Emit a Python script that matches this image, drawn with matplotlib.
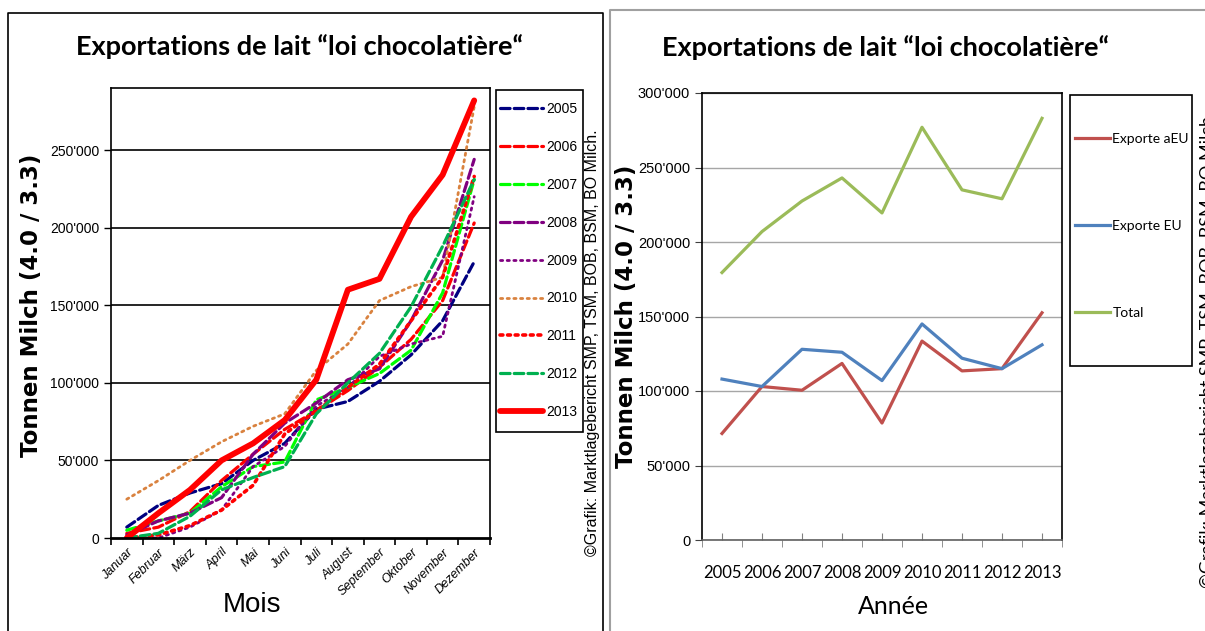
import numpy as np
import matplotlib
matplotlib.use("Agg")
import matplotlib.pyplot as plt
from matplotlib.lines import Line2D
from matplotlib.patches import Rectangle

# left chart: monthly cumulated exports per year
months = ["Januar", "Februar", "März", "April", "Mai", "Juni", "Juli",
          "August", "September", "Oktober", "November", "Dezember"]
y2005 = [7, 21, 29, 35, 50, 61, 83, 88, 101, 118, 140, 178]
y2006 = [3, 7, 17, 37, 54, 70, 82, 95, 110, 128, 153, 203]
y2007 = [5, 11, 16, 33, 46, 49, 89, 97, 106, 121, 158, 231]
y2008 = [2, 11, 16, 26, 54, 74, 87, 102, 109, 140, 179, 244]
y2009 = [0, 0, 7, 18, 46, 59, 85, 97, 117, 125, 130, 220]
y2010 = [25, 37, 50, 62, 72, 80, 108, 125, 153, 162, 168, 278]
y2011 = [0, 2, 8, 18, 34, 67, 82, 97, 112, 140, 168, 233]
y2012 = [0, 3, 14, 31, 39, 46, 80, 100, 119, 149, 188, 231]
y2013 = [0, 16, 31, 50, 61, 76, 102, 160, 167, 207, 234, 282]

# right chart: yearly exports
years = ["2005", "2006", "2007", "2008", "2009", "2010", "2011", "2012", "2013"]
exp_aeu = [71.5, 103, 100.5, 118.5, 78.5, 133.5, 113.5, 115, 152.5]
exp_eu = [108, 103, 128, 126, 107, 145, 122, 115, 131]
total = [179.5, 207, 227.5, 243, 219.5, 277, 235, 229, 283]

W, H = 1205, 631
fig = plt.figure(figsize=(W / 100, H / 100), dpi=100)

def box(x0, y0, x1, y1):
    # pixel coords (top-left origin) -> figure fraction
    return [x0 / W, 1 - y1 / H, (x1 - x0) / W, (y1 - y0) / H]

def fx(x):
    return x / W

def fy(y):
    return 1 - y / H

def frame(x0, y0, x1, y1):
    fig.add_artist(Rectangle((fx(x0), fy(y1)), fx(x1) - fx(x0), fy(y0) - fy(y1),
                             transform=fig.transFigure, fill=False, edgecolor="black", lw=1.2))

narrow = ["Liberation Sans Narrow", "Liberation Sans", "DejaVu Sans"]
calib = ["Lato", "DejaVu Sans"]
heavy = ["DejaVu Sans"]

# panel borders
fig.add_artist(Line2D([fx(8), fx(8), fx(603), fx(603)], [0, fy(13), fy(13), 0], color="black", lw=1.2))
fig.add_artist(Line2D([fx(610), fx(610), 1], [0, fy(10), fy(10)], color="#a0a0a0", lw=1.5))

fmt = matplotlib.ticker.FuncFormatter(lambda v, p: "0" if v == 0 else "%d'%03d" % (v // 1000, v % 1000))

# ---------------- left chart ----------------
ax = fig.add_axes(box(111, 88, 490, 538))
xs = np.arange(len(months))
k = 1000
styles = [
    (y2005, "2005", "#000080", (0, (3, 1.3)), 2.3),
    (y2006, "2006", "#ff0000", (0, (3, 1.3)), 2.3),
    (y2007, "2007", "#00ff00", (0, (3, 1.3)), 2.3),
    (y2008, "2008", "#800080", (0, (3, 1.3)), 2.3),
    (y2009, "2009", "#800080", (0, (0.8, 1.6)), 2.0),
    (y2010, "2010", "#d9823f", (0, (0.8, 1.6)), 2.0),
    (y2011, "2011", "#ff0000", (0, (0.8, 1.3)), 2.6),
    (y2012, "2012", "#00b050", (0, (3, 1.3)), 2.3),
    (y2013, "2013", "#ff0000", "-", 4.2),
]
for vals, lab, col, ls, lw in styles:
    ax.plot(xs, np.array(vals) * k, color=col, ls=ls, lw=lw, label=lab,
            solid_capstyle="round", dash_capstyle="round")

ax.set_xlim(-0.5, 11.5)
ax.set_ylim(0, 290000)
ax.set_yticks(np.arange(0, 290000, 50000))
ax.yaxis.set_major_formatter(fmt)
for v in range(50000, 290000, 50000):
    ax.axhline(v, color="black", lw=1.2, zorder=0)
ax.set_xticks(xs)
ax.set_xticklabels(months, rotation=45, ha="right", rotation_mode="anchor",
                   fontsize=9, style="italic", family=narrow)
ax.tick_params(axis="x", length=0, pad=6)
ax.set_xticks(np.arange(-0.5, 12, 1), minor=True)
ax.tick_params(axis="x", which="minor", length=5, direction="out", width=1.2)
ax.tick_params(axis="y", length=5, width=1, labelsize=10)
for t in ax.get_yticklabels():
    t.set_family(narrow)
for s in ax.spines.values():
    s.set_linewidth(1.2)
ax.spines["bottom"].set_linewidth(2)
ax.set_xlabel("Mois", fontsize=20, family=["Liberation Sans", "DejaVu Sans"])
ax.xaxis.set_label_coords((252 - 111) / 379, -(605 - 538) / 450)
ax.xaxis.label.set_va("center")
ax.set_ylabel("Tonnen Milch (4.0 / 3.3)", fontsize=16.5, fontweight="bold", family=heavy)
ax.yaxis.set_label_coords((32 - 111) / 379, 0.518)
ax.yaxis.label.set_va("center")
leg = ax.legend(loc="upper left", bbox_to_anchor=(fx(500), fy(102)), bbox_transform=fig.transFigure,
                frameon=False, handlelength=3.1, labelspacing=1.72, borderpad=0,
                handletextpad=0.2, borderaxespad=0, prop={"family": narrow, "size": 10})
frame(496, 90, 583, 432)
fig.text(fx(300), fy(47), "Exportations de lait “loi chocolatière“", ha="center", va="center",
         fontsize=19.5, fontweight="bold", family=calib)
fig.text(fx(592), fy(343), "©Grafik: Marktlagebericht SMP, TSM, BOB, BSM, BO Milch.",
         rotation=90, ha="center", va="center", fontsize=11.5, family=narrow)

# ---------------- right chart ----------------
ax2 = fig.add_axes(box(702, 93, 1062, 540))
xs2 = np.arange(len(years))
ax2.plot(xs2, np.array(exp_aeu) * k, color="#c0504d", lw=2.3, label="Exporte aEU")
ax2.plot(xs2, np.array(exp_eu) * k, color="#4f81bd", lw=2.3, label="Exporte EU")
ax2.plot(xs2, np.array(total) * k, color="#9bbb59", lw=2.3, label="Total")
ax2.set_xlim(-0.5, 8.5)
ax2.set_ylim(0, 300000)
ax2.set_yticks(np.arange(0, 300001, 50000))
ax2.yaxis.set_major_formatter(fmt)
ax2.grid(axis="y", color="#a6a6a6", lw=1)
ax2.set_axisbelow(True)
ax2.set_xticks(xs2)
ax2.set_xticklabels(years, fontsize=12, family=calib)
ax2.tick_params(axis="x", direction="in", length=5, color="#808080", pad=18)
ax2.set_xticks(np.arange(-0.5, 9, 1), minor=True)
ax2.tick_params(axis="x", which="minor", direction="out", length=5, color="#808080")
ax2.tick_params(axis="y", length=5, color="#404040", labelsize=10.5)
for t in ax2.get_yticklabels():
    t.set_family(narrow)
for s in ax2.spines.values():
    s.set_linewidth(1.2)
ax2.spines["bottom"].set_color("#606060")
ax2.set_xlabel("Année", fontsize=18, family=calib)
ax2.xaxis.set_label_coords((893 - 702) / 360, -(606 - 540) / 447)
ax2.xaxis.label.set_va("center")
ax2.set_ylabel("Tonnen Milch (4.0 / 3.3)", fontsize=16.5, fontweight="bold", family=heavy)
ax2.yaxis.set_label_coords((627 - 702) / 360, 0.5)
ax2.yaxis.label.set_va("center")
leg2 = ax2.legend(loc="upper left", bbox_to_anchor=(fx(1075), fy(133)), bbox_transform=fig.transFigure,
                  frameon=False, handlelength=2.5, labelspacing=5.4, borderpad=0,
                  handletextpad=0.2, borderaxespad=0, prop={"family": calib, "size": 10})
frame(1070, 95, 1192, 366)
fig.text(fx(885), fy(48), "Exportations de lait “loi chocolatière“", ha="center", va="center",
         fontsize=19.5, fontweight="bold", family=calib)
fig.text(fx(1208), fy(352), "©Grafik: Marktlagebericht SMP, TSM, BOB, BSM, BO Milch",
         rotation=90, ha="center", va="center", fontsize=13, family=calib)

fig.savefig("out.png", dpi=100)
